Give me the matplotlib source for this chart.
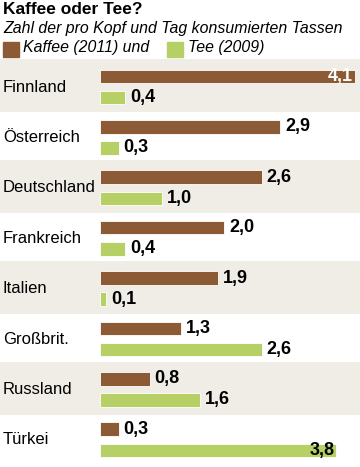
import matplotlib
matplotlib.use("Agg")
import matplotlib.pyplot as plt
from matplotlib.patches import Rectangle

# data
countries = ["Finnland", "Österreich", "Deutschland", "Frankreich",
             "Italien", "Großbrit.", "Russland", "Türkei"]
coffee = [4.1, 2.9, 2.6, 2.0, 1.9, 1.3, 0.8, 0.3]
tea = [0.4, 0.3, 1.0, 0.4, 0.1, 2.6, 1.6, 3.8]

c_coffee = "#8c5a35"
c_tea = "#b7d065"
c_band = "#efede6"

plt.rcParams["font.family"] = ["Liberation Sans", "DejaVu Sans"]

fig = plt.figure(figsize=(3.6, 4.67), dpi=100)
W, H = 360, 467

# header texts
fig.text(3 / W, 1 - 2 / H, "Kaffee oder Tee?", fontsize=12.5, fontweight="bold",
         va="top", ha="left")
fig.text(3 / W, 1 - 21 / H, "Zahl der pro Kopf und Tag konsumierten Tassen",
         fontsize=11.4, style="italic", va="top", ha="left")
fig.patches.append(Rectangle((3 / W, 1 - 57 / H), 16 / W, 15 / H, color=c_coffee,
                             transform=fig.transFigure))
fig.text(23 / W, 1 - 40 / H, "Kaffee (2011) und", fontsize=11.4, style="italic",
         va="top", ha="left")
fig.patches.append(Rectangle((167 / W, 1 - 57 / H), 16 / W, 15 / H, color=c_tea,
                             transform=fig.transFigure))
fig.text(188 / W, 1 - 40 / H, "Tee (2009)", fontsize=11.4, style="italic",
         va="top", ha="left")

# chart area: x=0 at 100px, 62.2 px per cup; rows 50.4 px apart
ax = fig.add_axes([0, 0, 1, (467 - 58) / H])
px = 62.2
ax.set_xlim(-100 / px, 260 / px)
pitch = 50.4
top = (58 - 87) / pitch
bottom = (467 - 87) / pitch
ax.set_ylim(bottom, top)
ax.axis("off")

bh = 0.27
off = 0.21
for i, name in enumerate(countries):
    if i % 2 == 0:
        ax.axhspan(i - 0.55, i + 0.5, color=c_band, zorder=0, lw=0)
    ax.text(3 / W, i, name, transform=ax.get_yaxis_transform(), fontsize=12,
            va="center", ha="left")
    ax.barh(i - off, coffee[i], height=bh, left=0, color=c_coffee,
            edgecolor="white", linewidth=0.6, zorder=2)
    ax.barh(i + off, tea[i], height=bh, left=0, color=c_tea,
            edgecolor="white", linewidth=0.6, zorder=2)

    for v, y in ((coffee[i], i - off), (tea[i], i + off)):
        lab = f"{v:.1f}".replace(".", ",")
        if v > 3.5:
            col = "white" if y < i else "black"
            ax.text(v - 0.03, y, lab, fontsize=13, fontweight="bold",
                    va="center", ha="right", color=col, zorder=3)
        else:
            ax.text(v + 0.08, y, lab, fontsize=13, fontweight="bold",
                    va="center", ha="left", zorder=3)

fig.savefig("out.png", dpi=100, facecolor="white")
